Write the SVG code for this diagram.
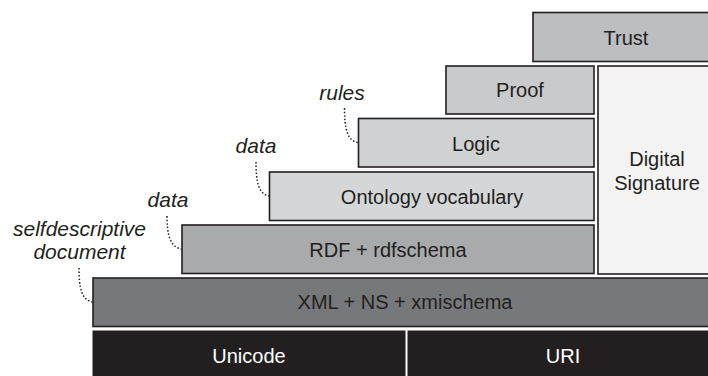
<svg xmlns="http://www.w3.org/2000/svg" width="708" height="376" viewBox="0 0 708 376">
  <style>
    .box { stroke: #231f20; stroke-width: 1.6; }
    .lbl { font-family: "Liberation Sans", Arial, Helvetica, sans-serif; font-size: 20px; fill: #231f20; text-anchor: middle; }
    .inv { fill: #ffffff; }
    .note { font-family: "Liberation Sans", Arial, Helvetica, sans-serif; font-size: 21px; font-style: italic; fill: #231f20; text-anchor: middle; }
    .dot { fill: none; stroke: #231f20; stroke-width: 1.5; stroke-dasharray: 1.5 2; }
  </style>
  <rect width="708" height="376" fill="#ffffff"/>

  <!-- layered stack -->
  <g id="trust">
    <rect class="box" x="533" y="12.5" width="186" height="49" fill="#bdbec0"/>
    <text class="lbl" x="626" y="45">Trust</text>
  </g>
  <g id="proof">
    <rect class="box" x="446" y="66" width="148" height="48" fill="#c9cacc"/>
    <text class="lbl" x="520" y="97">Proof</text>
  </g>
  <g id="digital-signature">
    <rect class="box" x="598" y="66" width="121" height="208" fill="#f2f3f2"/>
    <text class="lbl" x="657" y="166">Digital</text>
    <text class="lbl" x="657" y="190">Signature</text>
  </g>
  <g id="logic">
    <rect class="box" x="358.5" y="118.5" width="235.5" height="48.5" fill="#d0d1d3"/>
    <text class="lbl" x="476" y="151">Logic</text>
  </g>
  <g id="ontology">
    <rect class="box" x="269.5" y="172" width="324.5" height="48.5" fill="#d5d6d8"/>
    <text class="lbl" x="432" y="204">Ontology vocabulary</text>
  </g>
  <g id="rdf">
    <rect class="box" x="182" y="225" width="412" height="48.5" fill="#a9aaac"/>
    <text class="lbl" x="388" y="257">RDF + rdfschema</text>
  </g>
  <g id="xml">
    <rect class="box" x="93" y="278" width="626" height="48.5" fill="#77787b"/>
    <text class="lbl" x="405" y="309">XML + NS + xmischema</text>
  </g>
  <g id="unicode">
    <rect x="92.5" y="330.5" width="313" height="46" fill="#231f20"/>
    <text class="lbl inv" x="249" y="363">Unicode</text>
  </g>
  <g id="uri">
    <rect x="407.5" y="330.5" width="301" height="46" fill="#231f20"/>
    <text class="lbl inv" x="563" y="363">URI</text>
  </g>

  <!-- side annotations -->
  <g id="note-rules">
    <text class="note" x="342" y="100">rules</text>
  </g>
  <g id="note-data-ontology">
    <text class="note" x="256" y="153">data</text>
  </g>
  <g id="note-data-rdf">
    <text class="note" x="168" y="207">data</text>
  </g>
  <g id="note-selfdescriptive">
    <text class="note" x="79.5" y="236">selfdescriptive</text>
    <text class="note" x="79.5" y="259">document</text>
  </g>

  <!-- dotted leaders -->
  <g id="connectors">
    <path class="dot" d="M344.5,108 C344.5,128 347,141 358,142.5"/>
    <path class="dot" d="M256,162 C256,182 258.5,194 269,196"/>
    <path class="dot" d="M167,216 C167,235 170,247 181.5,249"/>
    <path class="dot" d="M79,268 C79,288 81.5,300 92.5,302"/>
  </g>
</svg>
